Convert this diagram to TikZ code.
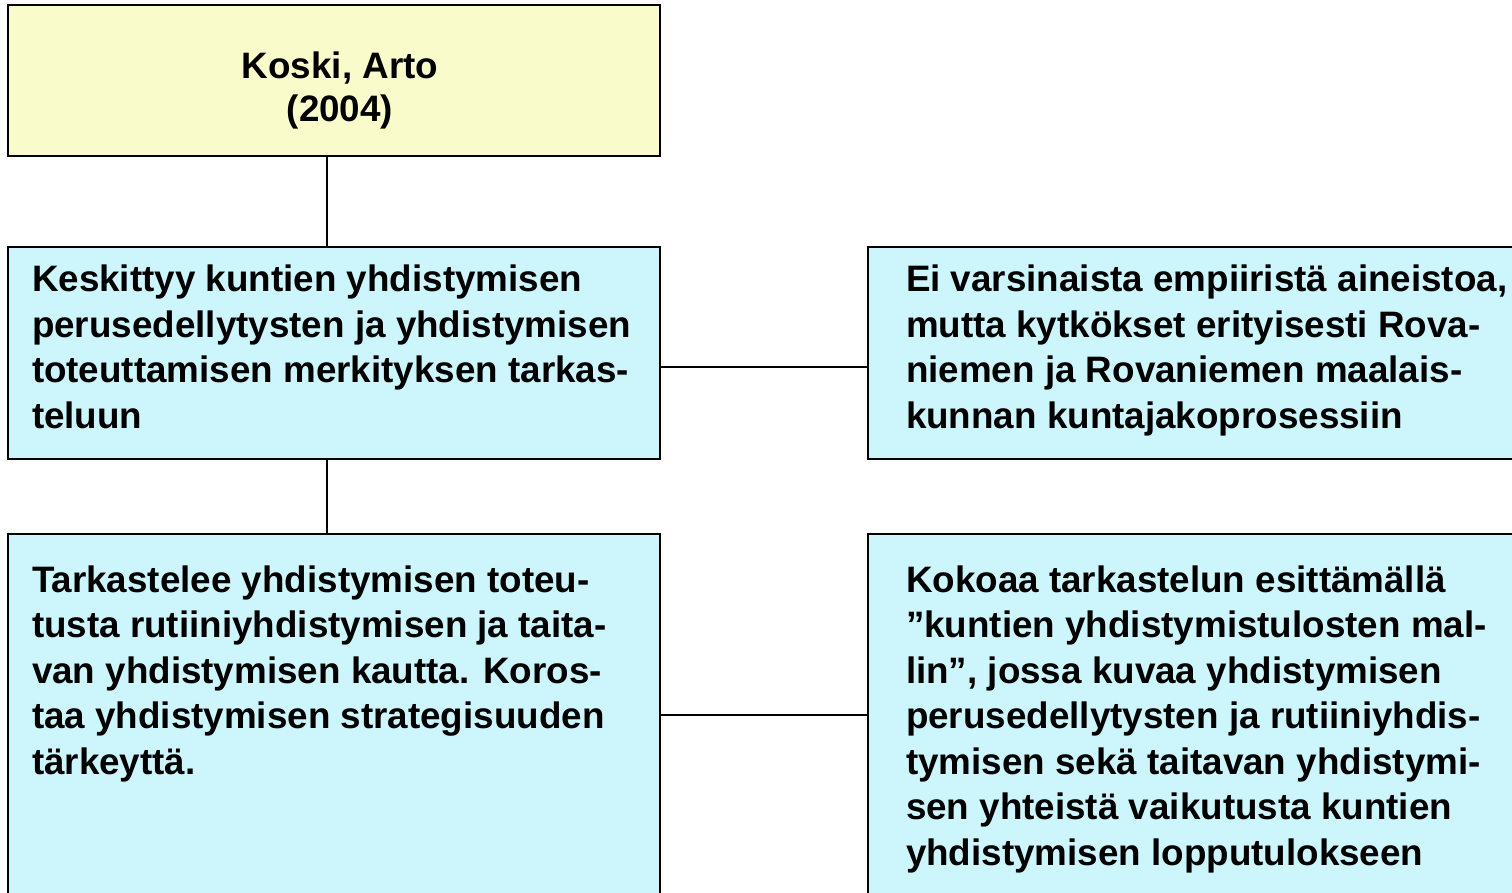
\documentclass[tikz,border=0pt]{standalone}
\usepackage{fontspec}
\setmainfont{Liberation Sans}
\definecolor{yellowbox}{RGB}{250,251,202}
\definecolor{cyanbox}{RGB}{204,246,252}
\begin{document}
\begin{tikzpicture}[x=1pt,y=-1pt,
  box/.style={draw=black, line width=2.2pt, rectangle, inner sep=0pt, outer sep=0pt},
  txt/.style={inner sep=0pt, outer sep=0pt, anchor=base west, align=left,
    font=\bfseries\fontsize{36.8}{45.5}\selectfont},
  conn/.style={draw=black, line width=1.8pt}]
\useasboundingbox[fill=white] (0,0) rectangle (1512,893);
% boxes
\node[box, fill=yellowbox, minimum width=652pt, minimum height=151pt] (top) at (334,80.5) {};
\node[box, fill=cyanbox, minimum width=652pt, minimum height=212pt] (A) at (334,353) {};
\node[box, fill=cyanbox, minimum width=662pt, minimum height=212pt] (B) at (1199,353) {};
\node[box, fill=cyanbox, minimum width=652pt, minimum height=380pt] (C) at (334,724) {};
\node[box, fill=cyanbox, minimum width=662pt, minimum height=380pt] (D) at (1199,724) {};
% connectors
\coordinate (sp) at (327,0);
\coordinate (h1) at (0,367);
\coordinate (h2) at (0,715);
\draw[conn] (top.south -| sp) -- (A.north -| sp);
\draw[conn] (A.south -| sp) -- (C.north -| sp);
\draw[conn] (A.east |- h1) -- (B.west |- h1);
\draw[conn] (C.east |- h2) -- (D.west |- h2);
% texts (anchored at the baseline of the last line)
\node[txt, anchor=base, align=center, font=\bfseries\fontsize{36.8}{43}\selectfont] (topt) at (340,122) {Koski, Arto\\(2004)};
\node[txt] (At) at (32,428) {Keskittyy kuntien yhdistymisen\\perusedellytysten ja yhdistymisen\\toteuttamisen merkityksen tarkas-\\teluun};
\node[txt] (Bt) at (906,428) {Ei varsinaista empiiristä aineistoa,\\mutta kytkökset erityisesti Rova-\\niemen ja Rovaniemen maalais-\\kunnan kuntajakoprosessiin};
\node[txt] (Ct) at (32,774) {Tarkastelee yhdistymisen toteu-\\tusta rutiiniyhdistymisen ja taita-\\van yhdistymisen kautta. Koros-\\taa yhdistymisen strategisuuden\\tärkeyttä.};
\node[txt] (Dt) at (906,865) {Kokoaa tarkastelun esittämällä\\”kuntien yhdistymistulosten mal-\\lin”, jossa kuvaa yhdistymisen\\perusedellytysten ja rutiiniyhdis-\\tymisen sekä taitavan yhdistymi-\\sen yhteistä vaikutusta kuntien\\yhdistymisen lopputulokseen};
\end{tikzpicture}
\end{document}
